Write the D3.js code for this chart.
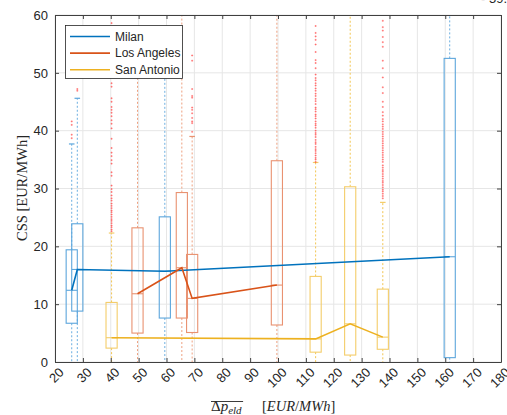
<!DOCTYPE html>
<html>
<head>
<meta charset="utf-8">
<script src="https://cdn.jsdelivr.net/npm/d3@7"></script>
<style>
  body { margin: 0; background: #fff; }
  svg { display: block; }
  .tick-label { font-family: "Liberation Sans", Arial, sans-serif; font-size: 13px; fill: #262626; }
</style>
</head>
<body>
<div id="chart"></div>
<script>
const width = 507;
const height = 415;

// x ticks / y ticks
const xTicks = [20, 30, 40, 50, 60, 70, 80, 90, 100, 110, 120, 130, 140, 150, 160, 170, 180];
const yTicks = [0, 10, 20, 30, 40, 50, 60];

const seriesNames = ["Milan", "Los Angeles", "San Antonio"];

// Milan
const milanPos = [26.0, 28.0, 59.4, 161.6];
const milanLo  = [0, 0, 0, 0];
const milanQ1  = [6.7, 8.8, 7.6, 0.75];
const milanMed = [12.4, 16.0, 15.7, 18.2];
const milanQ3  = [19.4, 23.9, 25.1, 52.5];
const milanHi  = [37.7, 45.6, 52.0, 60];
const milanOut = [[38.7, 39.3, 41.0, 41.6], [46.9, 47.2], [], []];

// Los Angeles
const laPos = [49.6, 65.5, 69.2, 99.6];
const laLo  = [0, 0, 0, 0];
const laQ1  = [5.0, 7.6, 5.1, 6.4];
const laMed = [11.8, 16.3, 11.0, 13.3];
const laQ3  = [23.2, 29.3, 18.6, 34.8];
const laHi  = [54.0, 60, 39.0, 60];
const laOut = [[], [], [39.8, 41.3, 41.6, 42.2, 43.0, 43.6, 44.0, 45.7, 46.0, 47.2, 52.1, 53.0], []];

// San Antonio
const saPos = [40.3, 113.5, 125.9, 137.6];
const saLo  = [0, 0, 0, 0];
const saQ1  = [2.4, 1.7, 1.2, 2.2];
const saMed = [4.2, 4.0, 6.6, 4.3];
const saQ3  = [10.3, 14.8, 30.3, 12.6];
const saHi  = [22.3, 34.5, 60, 27.6];
const saOut = [
  [22.6, 22.9, 23.3, 23.6, 24.0, 24.4, 24.7, 25.1, 25.5, 25.9, 26.2, 26.6, 27.0, 27.4, 27.9, 28.3, 28.8, 29.4, 29.9, 30.5,
   32.2, 32.8, 34.3, 34.9, 35.6, 36.2, 37.0, 38.6, 40.4, 41.2, 41.8, 42.5, 43.1, 43.6, 44.1, 45.0, 45.6, 47.6, 48.2, 51.5, 55.0, 58.6],
  [34.6, 35.0, 35.3, 35.7, 36.1, 36.5, 36.8, 37.2, 37.7, 38.0, 38.4, 38.9, 39.3, 39.6, 40.0, 40.5, 40.9, 41.2, 41.6, 42.1,
   42.5, 42.8, 43.3, 43.7, 44.0, 44.6, 45.1, 45.5, 46.0, 46.4, 46.9, 47.3, 47.8, 48.2, 48.7, 49.1, 49.7,
   50.8, 51.7, 52.2, 53.6, 54.9, 55.7, 56.3, 56.9, 58.1],
  [],
  [28.3, 28.7, 29.1, 29.5, 29.8, 30.2, 30.6, 31.0, 31.3, 31.7, 32.1, 32.5, 32.9, 33.2, 33.6, 34.0, 34.6, 35.0, 35.4, 35.8,
   36.2, 36.6, 37.0, 37.4, 37.8, 38.2, 38.6, 39.0, 39.4, 39.8, 40.3, 40.7, 41.1, 41.6, 42.0, 42.6, 43.2,
   44.1, 45.0, 46.5, 47.5, 49.2, 50.8, 52.1, 54.5, 55.3, 56.2, 57.3, 57.9, 59.0]
];

const lineColors  = ["#0072BD", "#D95319", "#EDB120"];
const boxColors   = ["#5DA6DC", "#E99271", "#F4CD6A"];
const whiskColors = ["#6BAEE0", "#EEA07F", "#F2C552"];

const margin = {left: 55, right: 6, top: 15, bottom: 53};
const plotW = width - margin.left - margin.right;
const plotH = height - margin.top - margin.bottom;

const svg = d3.select("#chart").append("svg")
  .attr("width", width)
  .attr("height", height);

const x = d3.scaleLinear().domain([20, 180]).range([margin.left, margin.left + plotW]);
const y = d3.scaleLinear().domain([0, 60]).range([margin.top + plotH, margin.top]);

svg.append("defs").append("clipPath").attr("id", "plot-clip")
  .append("rect")
  .attr("x", margin.left).attr("y", margin.top)
  .attr("width", plotW).attr("height", plotH);

//Grid
const grid = svg.append("g").attr("stroke", "#e6e6e6").attr("stroke-width", 1);
grid.selectAll("line.gx").data(xTicks).enter().append("line")
  .attr("x1", d => x(d)).attr("x2", d => x(d))
  .attr("y1", y(0)).attr("y2", y(60));
grid.selectAll("line.gy").data(yTicks).enter().append("line")
  .attr("x1", x(20)).attr("x2", x(180))
  .attr("y1", d => y(d)).attr("y2", d => y(d));

// build box records
const groups = [
  {pos: milanPos, lo: milanLo, q1: milanQ1, med: milanMed, q3: milanQ3, hi: milanHi, out: milanOut},
  {pos: laPos, lo: laLo, q1: laQ1, med: laMed, q3: laQ3, hi: laHi, out: laOut},
  {pos: saPos, lo: saLo, q1: saQ1, med: saMed, q3: saQ3, hi: saHi, out: saOut}
];

const halfW = 2; // box half width in x units
const capW = 1;

const plot = svg.append("g").attr("clip-path", "url(#plot-clip)");

groups.forEach((g, s) => {
  const boxes = g.pos.map((p, i) => ({p: p, lo: g.lo[i], q1: g.q1[i], med: g.med[i], q3: g.q3[i], hi: g.hi[i], out: g.out[i]}));
  const gg = plot.append("g");

  // whiskers
  gg.selectAll(".whisk-up").data(boxes).enter().append("line")
    .attr("x1", d => x(d.p)).attr("x2", d => x(d.p))
    .attr("y1", d => y(d.q3)).attr("y2", d => y(d.hi))
    .attr("stroke", whiskColors[s]).attr("stroke-width", 1).attr("stroke-dasharray", "2,2");
  gg.selectAll(".whisk-lo").data(boxes).enter().append("line")
    .attr("x1", d => x(d.p)).attr("x2", d => x(d.p))
    .attr("y1", d => y(d.q1)).attr("y2", d => y(d.lo))
    .attr("stroke", whiskColors[s]).attr("stroke-width", 1).attr("stroke-dasharray", "2,2");
  // caps
  gg.selectAll(".cap").data(boxes).enter().append("line")
    .attr("x1", d => x(d.p - capW)).attr("x2", d => x(d.p + capW))
    .attr("y1", d => y(d.hi)).attr("y2", d => y(d.hi))
    .attr("stroke", boxColors[s]).attr("stroke-width", 1.2);

  // boxes
  gg.selectAll(".box").data(boxes).enter().append("rect")
    .attr("x", d => x(d.p - halfW))
    .attr("width", d => x(d.p + halfW) - x(d.p - halfW))
    .attr("y", d => y(d.q3))
    .attr("height", d => y(d.q1) - y(d.q3))
    .attr("fill", "none").attr("stroke", boxColors[s]).attr("stroke-width", 1.1);
  gg.selectAll(".med").data(boxes).enter().append("line")
    .attr("x1", d => x(d.p - halfW)).attr("x2", d => x(d.p + halfW))
    .attr("y1", d => y(d.med)).attr("y2", d => y(d.med))
    .attr("stroke", boxColors[s]).attr("stroke-width", 1.1);

  // outliers
  const outs = [];
  boxes.forEach(d => d.out.forEach(v => outs.push({p: d.p, v: v})));
  gg.selectAll(".out").data(outs).enter().append("path")
    .attr("d", d => {
      const cx = x(d.p), cy = y(d.v);
      return `M${cx - 1},${cy}H${cx + 1}M${cx},${cy - 1}V${cy + 1}`;
    })
    .attr("stroke", "#ff2a2a").attr("stroke-opacity", 0.6).attr("stroke-width", 0.8);
});

// median connecting lines
const lineGen = d3.line().x(d => x(d[0])).y(d => y(d[1]));
groups.forEach((g, s) => {
  plot.append("path")
    .datum(g.pos.map((p, i) => [p, g.med[i]]))
    .attr("d", lineGen)
    .attr("fill", "none")
    .attr("stroke", lineColors[s])
    .attr("stroke-width", 1.6);
});

//Axes frame and ticks
const axisColor = "#404040";
const xAxisB = d3.axisBottom(x).tickValues(xTicks).tickSizeInner(-4).tickSizeOuter(0).tickFormat(d3.format("d"));
const xAxisT = d3.axisTop(x).tickValues(xTicks).tickSizeInner(-4).tickSizeOuter(0).tickFormat("");
const yAxisL = d3.axisLeft(y).tickValues(yTicks).tickSizeInner(-4).tickSizeOuter(0).tickPadding(7);
const yAxisR = d3.axisRight(y).tickValues(yTicks).tickSizeInner(-4).tickSizeOuter(0).tickFormat("");

const gxB = svg.append("g").attr("transform", `translate(0,${y(0)})`).call(xAxisB);
svg.append("g").attr("transform", `translate(0,${y(60)})`).call(xAxisT);
const gyL = svg.append("g").attr("transform", `translate(${x(20)},0)`).call(yAxisL);
svg.append("g").attr("transform", `translate(${x(180)},0)`).call(yAxisR);

svg.selectAll(".domain").attr("stroke", axisColor);
svg.selectAll(".tick line").attr("stroke", axisColor);

gxB.selectAll(".tick text")
  .attr("class", "tick-label")
  .attr("text-anchor", "end")
  .attr("transform", "translate(6,8) rotate(-45)")
  .attr("dy", "0.35em").attr("y", 0).attr("x", 0);
gyL.selectAll(".tick text").attr("class", "tick-label");

//Legend
const legend = svg.append("g");
legend.append("rect")
  .attr("x", 65.5).attr("y", 25.5).attr("width", 117).attr("height", 53)
  .attr("fill", "#fff").attr("stroke", "#262626").attr("stroke-width", 0.8);
seriesNames.forEach((name, i) => {
  const ly = 36.5 + i * 16.6;
  legend.append("line")
    .attr("x1", 70).attr("x2", 110).attr("y1", ly).attr("y2", ly)
    .attr("stroke", lineColors[i]).attr("stroke-width", 1.6);
  legend.append("text")
    .attr("x", 115).attr("y", ly).attr("dy", "0.35em")
    .attr("font-family", "Liberation Sans, Arial, sans-serif")
    .attr("font-size", 12).attr("fill", "#262626")
    .text(name);
});

//Axis titles
svg.append("text")
  .attr("transform", "translate(27,188) rotate(-90)")
  .attr("text-anchor", "middle")
  .attr("font-family", "Liberation Serif, Times New Roman, serif")
  .attr("font-size", 14.5).attr("fill", "#262626")
  .text("CSS [EUR/MWh]");

const xl = svg.append("text")
  .attr("x", 211).attr("y", 411)
  .attr("font-family", "Liberation Serif, Times New Roman, serif")
  .attr("font-size", 15).attr("fill", "#262626");
xl.append("tspan").text("\u0394");
xl.append("tspan").attr("font-style", "italic").text("p");
xl.append("tspan").attr("font-style", "italic").attr("font-size", 11).attr("dy", 3).text("eld");
const bb = xl.node().getBBox();
svg.append("line")
  .attr("x1", bb.x).attr("x2", bb.x + bb.width + 1)
  .attr("y1", 401.5).attr("y2", 401.5)
  .attr("stroke", "#262626").attr("stroke-width", 0.9);

const xl2 = svg.append("text")
  .attr("x", 262).attr("y", 411)
  .attr("font-family", "Liberation Serif, Times New Roman, serif")
  .attr("font-size", 14.5).attr("fill", "#262626");
xl2.append("tspan").text("[");
xl2.append("tspan").attr("font-style", "italic").text("EUR");
xl2.append("tspan").text("/");
xl2.append("tspan").attr("font-style", "italic").text("MWh");
xl2.append("tspan").text("]");

// clipped fragment at the top edge
svg.append("text")
  .attr("x", 481).attr("y", 3)
  .attr("font-family", "Liberation Sans, Arial, sans-serif")
  .attr("font-size", 13).attr("fill", "#262626")
  .text("- 59.");
</script>
</body>
</html>
